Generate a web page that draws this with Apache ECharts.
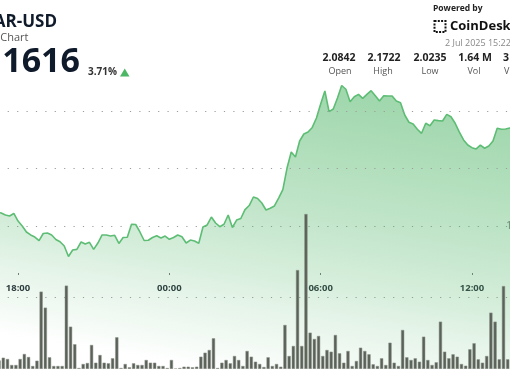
<!DOCTYPE html>
<html><head><meta charset="utf-8">
<script src="https://cdn.jsdelivr.net/npm/echarts@6/dist/echarts.min.js"></script>
<style>html,body{margin:0;padding:0;background:#fff}#c{width:510px;height:369px}</style>
</head><body><div id="c"></div>
<script>
// 10-minute sample times (1 Jul 17:10 -> 2 Jul 13:40)
const times = [
 '17:10','17:20','17:30','17:40','17:50',
 '18:00','18:10','18:20','18:30','18:40','18:50',
 '19:00','19:10','19:20','19:30','19:40','19:50',
 '20:00','20:10','20:20','20:30','20:40','20:50',
 '21:00','21:10','21:20','21:30','21:40','21:50',
 '22:00','22:10','22:20','22:30','22:40','22:50',
 '23:00','23:10','23:20','23:30','23:40','23:50',
 '00:00','00:10','00:20','00:30','00:40','00:50',
 '01:00','01:10','01:20','01:30','01:40','01:50',
 '02:00','02:10','02:20','02:30','02:40','02:50',
 '03:00','03:10','03:20','03:30','03:40','03:50',
 '04:00','04:10','04:20','04:30','04:40','04:50',
 '05:00','05:10','05:20','05:30','05:40','05:50',
 '06:00','06:10','06:20','06:30','06:40','06:50',
 '07:00','07:10','07:20','07:30','07:40','07:50',
 '08:00','08:10','08:20','08:30','08:40','08:50',
 '09:00','09:10','09:20','09:30','09:40','09:50',
 '10:00','10:10','10:20','10:30','10:40','10:50',
 '11:00','11:10','11:20','11:30','11:40','11:50',
 '12:00','12:10','12:20','12:30','12:40','12:50',
 '13:00','13:10','13:20','13:30','13:40'
];
const prices = [
 2.0622,2.0613,2.0596,2.0587,2.0609,
 2.0543,2.0500,2.0448,2.0422,2.0404,2.0372,
 2.0435,2.0439,2.0422,2.0383,2.0363,2.0326,
 2.0235,2.0291,2.0297,2.0361,2.0343,2.0358,
 2.0297,2.0352,2.0422,2.0422,2.0413,2.0419,
 2.0348,2.0400,2.0402,2.0515,2.0513,2.0448,
 2.0374,2.0376,2.0400,2.0415,2.0396,2.0413,
 2.0384,2.0400,2.0422,2.0407,2.0352,2.0378,
 2.0370,2.0350,2.0491,2.0509,2.0578,2.0526,
 2.0494,2.0515,2.0596,2.0487,2.0552,2.0565,
 2.0643,2.0678,2.0752,2.0739,2.0700,2.0639,
 2.0654,2.0674,2.0743,2.0817,2.1004,2.1143,
 2.1100,2.1239,2.1300,2.1317,2.1357,2.1439,
 2.1561,2.1674,2.1494,2.1517,2.1613,2.1722,
 2.1689,2.1581,2.1624,2.1645,2.1610,2.1645,
 2.1677,2.1633,2.1587,2.1633,2.1630,2.1630,
 2.1587,2.1572,2.1465,2.1402,2.1387,2.1341,
 2.1306,2.1393,2.1372,2.1422,2.1416,2.1413,
 2.1471,2.1450,2.1393,2.1317,2.1248,2.1204,
 2.1181,2.1170,2.1204,2.1176,2.1196,2.1239,
 2.1350,2.1341,2.1343,2.1352,2.1357
];
// volume per 10-minute interval, in thousands
const volumesK = [
 60,79,70,28,28,
 70,105,84,21,58,541,
 429,82,21,21,21,583,
 296,173,7,35,42,168,
 44,98,44,40,75,222,
 7,35,12,40,28,28,
 63,44,44,21,21,7,
 63,2,7,16,16,12,
 16,86,114,133,215,7,
 44,63,40,91,63,21,
 126,86,51,35,14,82,
 21,35,16,308,91,161,
 692,161,1084,254,210,231,
 91,133,121,238,110,44,
 126,21,56,149,126,103,
 33,21,75,28,184,44,
 21,273,82,63,75,51,
 226,63,28,47,331,121,
 75,103,86,35,23,138,
 180,68,44,91,394,331,
 68,580,68,147,null
];
const tickHours = [0, 6, 12, 18];           // hours after 1 Jul 18:00
const tickLabels = ['18:00', '00:00', '06:00', '12:00'];
const priceGridLines = [2.10, 2.15];
const volumeAxisLabels = {1000: '1M'};
const symbolText = 'AR-USD';
const subtitleText = 'r Chart';
const lastPriceText = '1616';
const changeText = '3.71%';
const statValues = ['2.0842', '2.1722', '2.0235', '1.64 M'];
const statLabels = ['Open', 'High', 'Low', 'Vol'];
const statCutValue = '3';
const statCutLabel = 'V';
const dateText = '2 Jul 2025 15:22';

// convert clock strings to hours relative to 1 Jul 18:00
const hours = [];
let dayOffset = 0, prev = -1;
times.forEach(t => {
  const [h, m] = t.split(':').map(Number);
  const v = h + m / 60;
  if (v < prev) dayOffset += 24;
  prev = v;
  hours.push(v + dayOffset - 18);
});
const halfStep = 5 / 60;

const FONT = '"Open Sans", "Noto Sans", sans-serif';
const gridL = -133.3, gridR = -113.3;
const statX = [339, 384, 430, 475];
const statLX = [340, 383, 430, 474];

const graphic = [
  {type:'text', x:57, y:22, style:{text:symbolText, font:'bold 17px ' + FONT, fill:'#0f1a2b', align:'right', verticalAlign:'middle'}},
  {type:'text', x:28.5, y:37.5, style:{text:subtitleText, font:'11px ' + FONT, fill:'#555', align:'right', verticalAlign:'middle'}},
  {type:'text', x:80, y:62, style:{text:lastPriceText, font:'bold 34px ' + FONT, fill:'#0f1a2b', align:'right', verticalAlign:'middle'}},
  {type:'text', x:88, y:72.5, style:{text:changeText, font:'bold 10px ' + FONT, fill:'#333', align:'left', verticalAlign:'middle'}},
  {type:'polygon', shape:{points:[[120,76.5],[129.5,76.5],[124.75,68.5]]}, style:{fill:'#4cb866'}},
  {type:'text', x:433, y:8.5, style:{text:'Powered by', font:'bold 8.5px ' + FONT, fill:'#222', align:'left', verticalAlign:'middle'}},
  {type:'rect', shape:{x:434.5, y:21, width:11, height:11}, style:{fill:'none', stroke:'#111', lineWidth:2, lineDash:[2,1.3]}},
  {type:'text', x:450, y:26.5, style:{text:'CoinDesk', font:'bold 13px ' + FONT, fill:'#111', align:'left', verticalAlign:'middle'}},
  {type:'text', x:445, y:43.5, style:{text:dateText, font:'9px ' + FONT, fill:'#888', align:'left', verticalAlign:'middle'}},
  {type:'text', x:503, y:58, style:{text:statCutValue, font:'bold 10.5px ' + FONT, fill:'#222', align:'left', verticalAlign:'middle'}},
  {type:'text', x:504, y:71.5, style:{text:statCutLabel, font:'9px ' + FONT, fill:'#555', align:'left', verticalAlign:'middle'}}
];
statValues.forEach((v, i) => graphic.push({type:'text', x:statX[i], y:58, style:{text:v, font:'bold 10.5px ' + FONT, fill:'#222', align:'center', verticalAlign:'middle'}}));
statLabels.forEach((v, i) => graphic.push({type:'text', x:statLX[i], y:71.5, style:{text:v, font:'9px ' + FONT, fill:'#555', align:'center', verticalAlign:'middle'}}));

const dotted = {type:[1.2, 8.2], color:'#9c9c9c', width:1};

const chart = echarts.init(document.getElementById('c'), null, {renderer:'canvas'});
chart.setOption({
  animation:false,
  backgroundColor:'#fff',
  textStyle:{fontFamily:FONT},
  grid:[
    {left:gridL, right:gridR, top:-4, bottom:-29.5, containLabel:false, outerBoundsMode:'none'},
    {left:gridL, right:gridR, top:154.5, bottom:0, containLabel:false, outerBoundsMode:'none'}
  ],
  xAxis:[
    {type:'value', gridIndex:0, min:-6, max:24, interval:6, show:false},
    {type:'value', gridIndex:1, min:-6, max:24, interval:6, offset:-96,
     axisLine:{show:false}, splitLine:{show:false},
     axisTick:{show:true, length:2, lineStyle:{color:'#777', width:1}},
     axisLabel:{margin:10, fontSize:9.5, fontWeight:'bold', color:'#2b313c', fontFamily:FONT,
       formatter:v => { const i = tickHours.indexOf(v); return i >= 0 ? tickLabels[i] : ''; }}}
  ],
  yAxis:[
    {type:'value', gridIndex:0, min:1.90, max:2.25, show:false},
    {type:'value', gridIndex:1, min:0, max:1500, interval:500, position:'right', offset:-118,
     axisLine:{show:false}, axisTick:{show:false},
     axisLabel:{margin:1, fontSize:10, color:'#666', fontFamily:FONT, formatter:v => volumeAxisLabels[v] || ''},
     splitLine:{show:true, showMinLine:false, showMaxLine:false, lineStyle:dotted}}
  ],
  graphic: graphic,
  series:[
    {type:'line', xAxisIndex:0, yAxisIndex:0, z:2,
     data:hours.map((h, i) => [h, prices[i]]),
     symbol:'none', showSymbol:false,
     lineStyle:{color:'#5dbd74', width:1.6},
     areaStyle:{origin:'start', color:new echarts.graphic.LinearGradient(0.55, 0, 0.45, 1, [
       {offset:0, color:'rgba(76,180,100,0.75)'},
       {offset:0.37, color:'rgba(76,180,100,0.50)'},
       {offset:0.59, color:'rgba(76,180,100,0.32)'},
       {offset:0.69, color:'rgba(76,180,100,0.21)'},
       {offset:0.81, color:'rgba(76,180,100,0.11)'},
       {offset:0.92, color:'rgba(76,180,100,0.0)'}
     ])},
     markLine:{silent:true, symbol:'none', label:{show:false}, lineStyle:dotted,
       data:priceGridLines.map(v => ({yAxis:v}))}
    },
    {type:'bar', xAxisIndex:1, yAxisIndex:1, z:3,
     data:hours.map((h, i) => [h + halfStep, volumesK[i]]),
     barWidth:3.2,
     itemStyle:{color:'#5b6259', borderColor:'#8e948b', borderWidth:0.5}
    }
  ]
});
</script></body></html>
